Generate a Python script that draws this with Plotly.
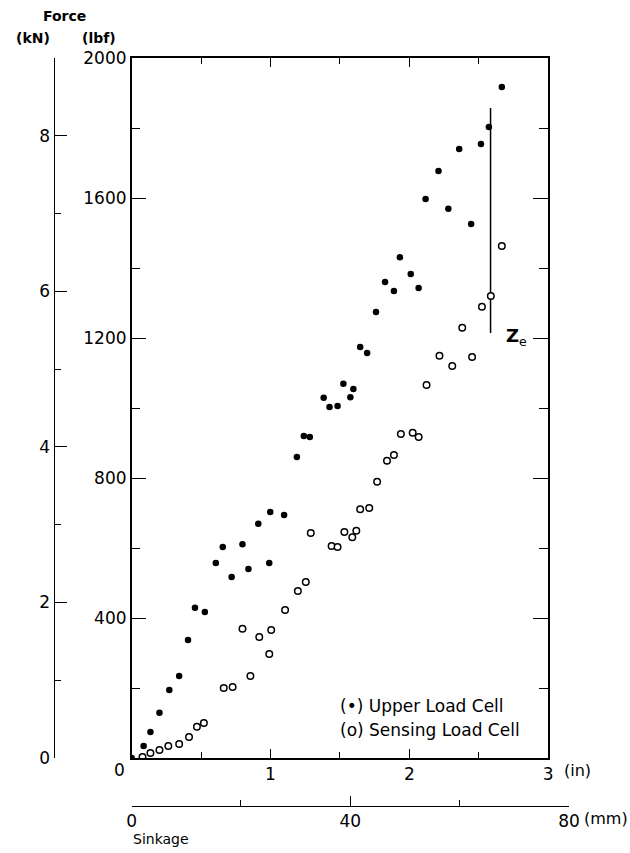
import plotly.graph_objects as go

# ---- data (sinkage in inches, force in lbf) ----
upper_x = [0.0, 0.086, 0.135, 0.200, 0.271, 0.342, 0.406, 0.456, 0.527, 0.606,
           0.656, 0.720, 0.798, 0.841, 0.912, 0.991, 0.998, 1.098, 1.190, 1.240,
           1.283, 1.383, 1.425, 1.483, 1.525, 1.575, 1.597, 1.646, 1.696, 1.760,
           1.825, 1.889, 1.932, 2.010, 2.067, 2.117, 2.210, 2.281, 2.359, 2.445,
           2.516, 2.573, 2.666]
upper_y = [0, 34, 74, 129, 194, 234, 337, 429, 417, 557,
           603, 517, 611, 540, 669, 557, 703, 694, 860, 920,
           917, 1029, 1003, 1006, 1069, 1031, 1054, 1174, 1157, 1274,
           1360, 1334, 1431, 1383, 1343, 1597, 1677, 1569, 1740, 1526,
           1754, 1803, 1917]

sensing_x = [0.078, 0.135, 0.200, 0.264, 0.342, 0.413, 0.470, 0.520, 0.663, 0.727,
             0.798, 0.855, 0.919, 0.991, 1.005, 1.105, 1.197, 1.254, 1.290, 1.440,
             1.483, 1.532, 1.589, 1.618, 1.646, 1.711, 1.768, 1.839, 1.889, 1.939,
             2.024, 2.067, 2.124, 2.217, 2.309, 2.381, 2.452, 2.523, 2.587, 2.666]
sensing_y = [3, 14, 23, 34, 40, 60, 89, 100, 200, 203,
             369, 234, 346, 297, 366, 423, 477, 503, 643, 606,
             603, 646, 631, 649, 711, 714, 789, 849, 866, 926,
             929, 917, 1066, 1149, 1120, 1229, 1146, 1289, 1320, 1463]

ze_x = 2.585
ze_y = [1214, 1857]

in_ticks = [1, 2, 3]
in_labels = ["1", "2", "3"]
in_minor = [0.5, 1.5, 2.5]
lbf_ticks = [400, 800, 1200, 1600, 2000]
lbf_labels = ["400", "800", "1200", "1600", "2000"]
lbf_minor = [200, 600, 1000, 1400, 1800]
kn_ticks = [0, 2, 4, 6, 8]
kn_labels = ["0", "2", "4", "6", "8"]
kn_minor = [1, 3, 5, 7, 9]
mm_ticks = [0, 40, 80]
mm_labels = ["0", "40", "80"]
mm_minor = [20, 60]

LBF_PER_KN = 224.809
MM_PER_IN = 25.4

FONT = "DejaVu Sans"
fig = go.Figure()

fig.add_trace(go.Scatter(x=[ze_x, ze_x], y=ze_y, mode="lines",
                         line=dict(color="black", width=1.5),
                         showlegend=False, hoverinfo="skip"))
fig.add_trace(go.Scatter(x=upper_x, y=upper_y, mode="markers", name="Upper Load Cell",
                         marker=dict(symbol="circle", size=6.5, color="black"),
                         showlegend=False))
fig.add_trace(go.Scatter(x=sensing_x, y=sensing_y, mode="markers", name="Sensing Load Cell",
                         marker=dict(symbol="circle", size=6.5, color="white",
                                     line=dict(color="black", width=1.5)),
                         showlegend=False))
# invisible companions so that the secondary (kN, mm) axes are drawn
fig.add_trace(go.Scatter(x=upper_x, y=[v / LBF_PER_KN for v in upper_y], yaxis="y2",
                         mode="markers", marker=dict(opacity=0), showlegend=False,
                         hoverinfo="skip"))
fig.add_trace(go.Scatter(x=[v * MM_PER_IN for v in upper_x], y=upper_y, xaxis="x2",
                         mode="markers", marker=dict(opacity=0), showlegend=False,
                         hoverinfo="skip"))

tickfont = dict(family=FONT, size=17, color="black")
L, R, T, B = 2, 2, 50, 20
W, H = 630, 853
pw, ph = W - L - R, H - T - B
SX, OX = 0.985, 1.0  # observed horizontal mapping of the photographed page


def px_x(p):
    return ((p - OX) / SX - L) / pw


def px_y(p):
    return (H - B - p) / ph


fig.update_layout(
    width=W, height=H,
    margin=dict(l=L, r=R, t=T, b=B),
    paper_bgcolor="white", plot_bgcolor="rgba(0,0,0,0)",
    showlegend=False,
    xaxis=dict(domain=[px_x(129), px_x(550)], range=[0, 3],
               tickvals=in_ticks, ticktext=in_labels,
               ticks="inside", ticklen=9, tickwidth=1.3, tickcolor="black",
               minor=dict(tickvals=in_minor, ticks="inside", ticklen=6,
                          tickwidth=1.2, tickcolor="black"),
               showline=True, linecolor="black", linewidth=1.5, mirror="ticks",
               showgrid=False, zeroline=False, tickfont=tickfont),
    yaxis=dict(domain=[px_y(758), px_y(58)], range=[0, 2000],
               tickvals=lbf_ticks, ticktext=lbf_labels,
               ticks="inside", ticklen=15, tickwidth=1.3, tickcolor="black",
               minor=dict(tickvals=lbf_minor, ticks="inside", ticklen=9,
                          tickwidth=1.2, tickcolor="black"),
               showline=True, linecolor="black", linewidth=1.5, mirror="ticks",
               showgrid=False, zeroline=False, tickfont=tickfont),
    yaxis2=dict(overlaying="y", anchor="free", side="left", position=px_x(50),
                range=[0, 9], tickvals=kn_ticks, ticktext=kn_labels,
                ticks="inside", ticklen=12, tickwidth=1.3, tickcolor="black",
                minor=dict(tickvals=kn_minor, ticks="inside", ticklen=6,
                           tickwidth=1.2, tickcolor="black"),
                showline=True, linecolor="black", linewidth=1.3,
                showgrid=False, zeroline=False, tickfont=tickfont),
    xaxis2=dict(anchor="free", position=px_y(806), domain=[px_x(129), px_x(571)],
                range=[0, 80], tickvals=mm_ticks, ticktext=mm_labels,
                ticks="inside", ticklen=10, tickwidth=1.3, tickcolor="black",
                minor=dict(tickvals=mm_minor, ticks="inside", ticklen=6,
                           tickwidth=1.2, tickcolor="black"),
                showline=True, linecolor="black", linewidth=1.1,
                showgrid=False, zeroline=False, tickfont=tickfont),
)

ann = []


def A(text, x, y, xref="paper", yref="paper", xanchor="center", size=16, **kw):
    ann.append(dict(text=text, x=x, y=y, xref=xref, yref=yref, xanchor=xanchor,
                    yanchor="middle", showarrow=False,
                    font=dict(family=FONT, size=size, color="black"), **kw))


A("0", 0, 0, xref="x", yref="y", xshift=-12, yshift=-12, size=17)
A("(in)", 3, 0, xref="x", yref="y", xanchor="left", size=16, xshift=14, yshift=-12)
A("(mm)", 80, px_y(818), xref="x2", xanchor="left", size=16, xshift=13)
A("Sinkage", px_x(128), px_y(839), xanchor="left", size=14)
A("<b>Force</b>", px_x(61), px_y(16), size=14)
A("<b>(kN)</b>", px_x(29), px_y(38), size=14)
A("<b>(lbf)</b>", px_x(96), px_y(38), size=14)
A("(•) Upper Load Cell", px_x(338), px_y(706), xanchor="left", size=17)
A("(o) Sensing Load Cell", px_x(338), px_y(730), xanchor="left", size=17)
A("<b>Z</b><sub>e</sub>", px_x(505), px_y(337), xanchor="left", size=18)
fig.update_layout(annotations=ann)

fig.write_html("out.html", config={"displayModeBar": False},
               post_script="document.body.style.margin='0';"
                           "document.body.style.overflow='hidden';")
